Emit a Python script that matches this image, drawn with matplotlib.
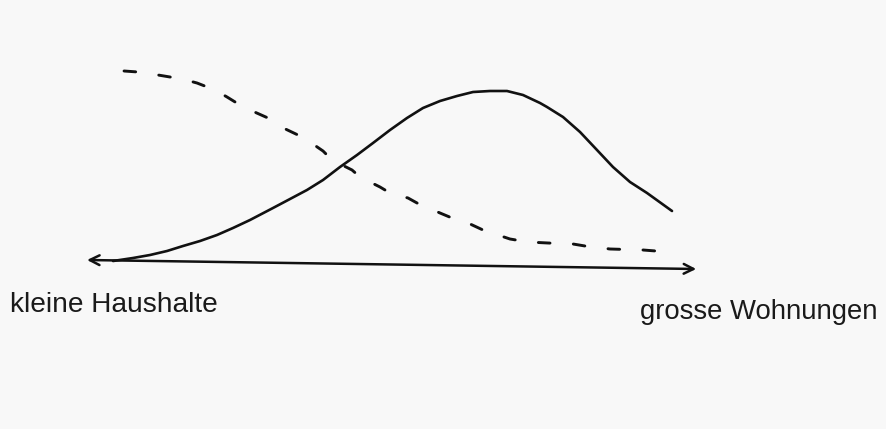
import matplotlib.pyplot as plt

# Haushaltsgrösse vs. Wohnungsgrösse, schematisch
wohnungen_x = [4.28, 7.57, 10.36, 13.16, 15.79, 18.59, 21.38, 24.01, 26.81, 30.59,
               33.39, 36.18, 38.82, 41.61, 44.41, 47.04, 49.84, 52.63, 55.26, 58.06,
               60.86, 63.49, 66.28, 69.08, 71.71, 74.51, 75.66, 78.29, 81.09, 83.88,
               86.51, 89.31, 92.11, 96.22]
wohnungen_y = [1.5, 3.0, 4.5, 6.5, 9.0, 11.5, 14.5, 18.0, 22.0, 28.0,
               32.5, 37.0, 42.0, 48.5, 54.5, 60.5, 67.0, 73.0, 78.0, 81.5,
               84.0, 86.0, 86.5, 86.5, 84.5, 80.5, 78.5, 73.5, 66.0, 57.0,
               48.5, 41.0, 35.5, 26.5]

haushalte_x = [6.09, 8.39, 11.18, 15.63, 18.09, 21.05, 23.03, 25.16, 26.81, 29.77,
               31.25, 34.70, 36.18, 38.82, 40.30, 43.59, 44.90, 48.19, 49.84, 52.80,
               54.28, 58.06, 60.03, 62.66, 65.13, 69.57, 72.53, 75.82, 79.93, 81.91,
               86.02, 91.45, 95.72]
haushalte_y = [96.5, 96.0, 94.75, 92.5, 90.5, 87.0, 83.5, 79.5, 77.0, 73.0,
               69.5, 64.5, 62.0, 56.5, 52.0, 47.0, 43.5, 38.5, 35.5, 33.0,
               30.5, 25.5, 23.0, 20.5, 17.0, 12.5, 11.0, 10.5, 10.0, 9.0,
               7.5, 7.0, 6.0]

label_links = "kleine Haushalte"
label_rechts = "grosse Wohnungen"

fig = plt.figure(figsize=(8.87, 4.29), dpi=100)
fig.patch.set_facecolor('#f8f8f8')
ax = fig.add_axes([0, 0, 1, 1])
ax.set_facecolor('#f8f8f8')
ax.set_xlim(-14.31, 131.58)
ax.set_ylim(-82.5, 132)
ax.axis('off')

ax.plot(wohnungen_x, wohnungen_y, color='#111111', lw=1.9,
        solid_capstyle='round', solid_joinstyle='round')
ax.plot(haushalte_x, haushalte_y, color='#111111', lw=2.1, dashes=(4, 8),
        dash_capstyle='round', dash_joinstyle='round')

# Achse mit Pfeilen an beiden Enden
ax.annotate('', xy=(100.2, -2.5), xytext=(0, 2),
            arrowprops=dict(arrowstyle='<->,head_length=0.7,head_width=0.35',
                            color='#111111', lw=1.8, shrinkA=0, shrinkB=0))

ax.text(-12.7, -24.0, label_links, fontsize=20.2, family='Liberation Sans',
        color='#1a1a1a', va='baseline', ha='left')
ax.text(91.0, -27.5, label_rechts, fontsize=19.8, family='Liberation Sans',
        color='#1a1a1a', va='baseline', ha='left')

plt.savefig('out.png', dpi=100, facecolor=fig.get_facecolor())
